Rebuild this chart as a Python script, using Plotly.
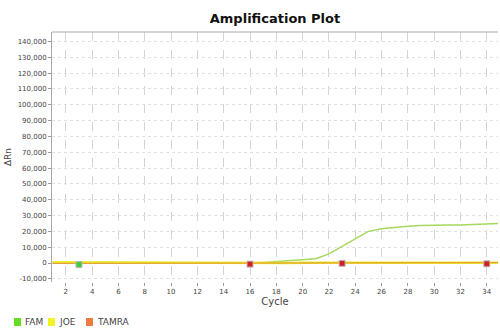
import plotly.graph_objects as go

cycles = list(range(1, 36))
fam = [600, 500, 400, 350, 300, 250, 200, 200, 150, 150, 100, 100, 50, 0, -100, -200,
       300, 900, 1500, 2000, 2700, 5800, 10500, 15500, 20000, 21600, 22600, 23300,
       23700, 24000, 24000, 24000, 24200, 24700, 25000]
joe = [500, 450, 400, 350, 300, 300, 250, 250, 200, 200, 150, 150, 100, 50, 0, -200,
       -100, 0, 50, 100, 100, 100, 100, 100, 100, 100, 100, 100, 100, 100, 100, 100, 100, 100, 100]
tamra = [-200, -200, -150, -150, -100, -100, -100, -50, -50, 0, 0, 0, 0, 0, 0, -100,
         -50, 0, 0, 0, 0, 0, 0, 0, 0, 0, 0, 0, 0, 50, 100, 150, 200, 200, 200]

ct_x = [3, 16, 23, 34]
ct_y = [-1000, -700, -200, -500]
ct_colors = ["#3ccc3c", "#d02020", "#d02020", "#d02020"]

legend_names = ["FAM", "JOE", "TAMRA"]
legend_colors = ["#66dd22", "#f2f226", "#ee7a40"]

xticks = list(range(2, 36, 2))
yticks = list(range(-10000, 150000, 10000))
yticktext = [f"{v:,}" for v in yticks]

fig = go.Figure()
fig.add_trace(go.Scatter(x=cycles, y=fam, mode="lines", line=dict(color="#a6d85e", width=1.5),
                         showlegend=False, name="FAM"))
fig.add_trace(go.Scatter(x=cycles, y=joe, mode="lines", line=dict(color="#eeee30", width=2.5),
                         showlegend=False, name="JOE"))
fig.add_trace(go.Scatter(x=cycles, y=tamra, mode="lines", line=dict(color="#e0902c", width=1),
                         showlegend=False, name="TAMRA"))
fig.add_trace(go.Scatter(x=ct_x, y=ct_y, mode="markers",
                         marker=dict(symbol="square", size=6, color=ct_colors,
                                     line=dict(color="#bbbbbb", width=1)),
                         showlegend=False, hoverinfo="skip"))

# custom compact legend (squares + labels) below the plot
W = 446.0
H = 250.0
def px_x(p):
    return (p - 52) / W
def px_y(p):
    return (282 - p) / H

shapes = [dict(type="line", xref="paper", yref="paper", x0=0, x1=1, y0=1, y1=1,
               line=dict(color="#aaaaaa", width=1))]
annotations = []
starts = [14, 48, 86]
for s, name, col in zip(starts, legend_names, legend_colors):
    shapes.append(dict(type="rect", xref="paper", yref="paper",
                       x0=px_x(s), x1=px_x(s + 7), y0=px_y(326), y1=px_y(318),
                       fillcolor=col, line=dict(width=0)))
    annotations.append(dict(text=name, xref="paper", yref="paper", x=px_x(s + 9),
                            y=px_y(322), xanchor="left", yanchor="middle", showarrow=False,
                            font=dict(size=9, color="#444444")))

fig.update_layout(
    width=500, height=336,
    margin=dict(l=52, r=2, t=32, b=54),
    paper_bgcolor="white", plot_bgcolor="white",
    font=dict(family="DejaVu Sans", color="#333333", size=8),
    title=dict(text="<b>Amplification Plot</b>", x=(52 + 498) / 2 / 500, xanchor="center",
               y=1 - 18 / 336, yanchor="middle", font=dict(size=13, color="#111111")),
    showlegend=False,
    xaxis=dict(range=[0.95, 34.85], tickvals=xticks, ticks="outside", ticklen=3,
               tickcolor="#999999", showgrid=True, gridcolor="#d4d4d4", griddash="dash",
               gridwidth=1, zeroline=False, showline=False,
               tickfont=dict(size=7, color="#444444"),
               title=dict(text="Cycle", font=dict(size=10, color="#444444"), standoff=2)),
    yaxis=dict(range=[-12000, 146000], tickvals=yticks, ticktext=yticktext, ticks="outside",
               ticklen=3, tickcolor="#999999", showgrid=True, gridcolor="#e0e0e0",
               griddash="dot", gridwidth=1, zeroline=False, showline=True,
               linecolor="#aaaaaa", linewidth=1,
               tickfont=dict(size=7, color="#444444"),
               title=dict(text="ΔRn", font=dict(size=9, color="#444444"), standoff=4)),
    shapes=shapes,
    annotations=annotations,
)

fig.write_html("out.html")
